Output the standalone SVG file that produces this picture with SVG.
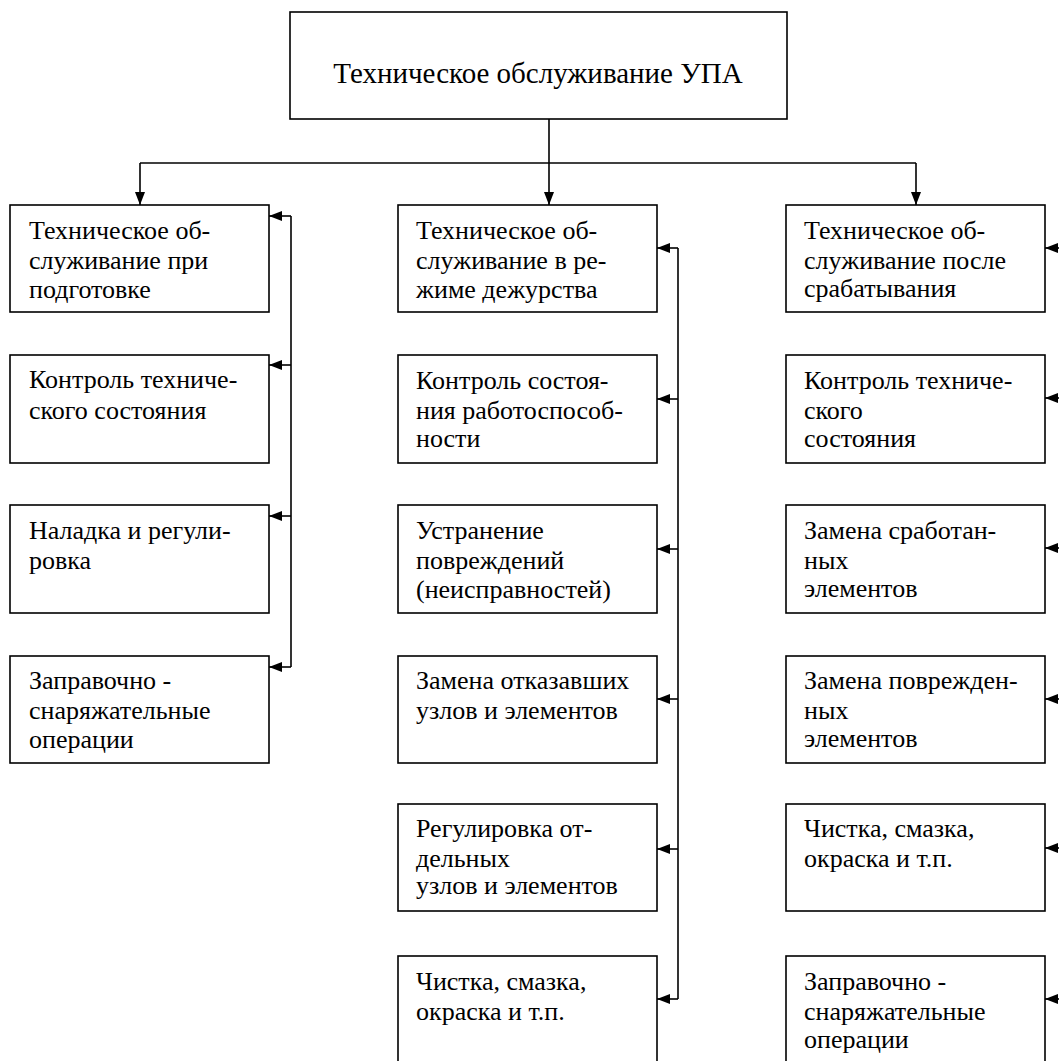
<svg xmlns="http://www.w3.org/2000/svg" width="1059" height="1061" viewBox="0 0 1059 1061" font-family="'Liberation Serif', 'Times New Roman', serif">
<style>
.box{fill:#fff;stroke:#000;stroke-width:1.6}
.t{font-size:26px;fill:#000}
.title{font-size:29px;fill:#000}
.c{fill:none;stroke:#000;stroke-width:1.6}
</style>
<defs>
<marker id="ah" markerUnits="userSpaceOnUse" markerWidth="14" markerHeight="11" refX="13" refY="5" orient="auto">
<path d="M0,0 L13,5 L0,10 z" fill="#000"/>
</marker>
</defs>
<rect width="1059" height="1061" fill="#fff"/>
<g id="connectors">
<path class="c" d="M549,119 V163"/>
<path class="c" d="M140,163 H916"/>
<path class="c" d="M140,163 V205" marker-end="url(#ah)"/>
<path class="c" d="M549,163 V205" marker-end="url(#ah)"/>
<path class="c" d="M916,163 V205" marker-end="url(#ah)"/>
<path class="c" d="M291,216 V667"/>
<path class="c" d="M291,216 H269" marker-end="url(#ah)"/>
<path class="c" d="M291,365 H269" marker-end="url(#ah)"/>
<path class="c" d="M291,516 H269" marker-end="url(#ah)"/>
<path class="c" d="M291,667 H269" marker-end="url(#ah)"/>
<path class="c" d="M678,248 V999"/>
<path class="c" d="M678,248 H657" marker-end="url(#ah)"/>
<path class="c" d="M678,399 H657" marker-end="url(#ah)"/>
<path class="c" d="M678,549 H657" marker-end="url(#ah)"/>
<path class="c" d="M678,699 H657" marker-end="url(#ah)"/>
<path class="c" d="M678,849 H657" marker-end="url(#ah)"/>
<path class="c" d="M678,999 H657" marker-end="url(#ah)"/>
<path class="c" d="M1066,248 V999"/>
<path class="c" d="M1066,248 H1045" marker-end="url(#ah)"/>
<path class="c" d="M1066,398 H1045" marker-end="url(#ah)"/>
<path class="c" d="M1066,548 H1045" marker-end="url(#ah)"/>
<path class="c" d="M1066,699 H1045" marker-end="url(#ah)"/>
<path class="c" d="M1066,848 H1045" marker-end="url(#ah)"/>
<path class="c" d="M1066,999 H1045" marker-end="url(#ah)"/>
</g>
<g id="root"><rect class="box" x="290" y="12" width="497" height="107"/><text class="title" x="538" y="83" text-anchor="middle">Техническое обслуживание УПА</text></g>

<g id="l1"><rect class="box" x="10" y="205" width="259" height="107"/><text class="t" x="29" y="239">Техническое об-<tspan x="29" dy="30">служивание при</tspan><tspan x="29" dy="29">подготовке</tspan></text></g>
<g id="l2"><rect class="box" x="10" y="355" width="259" height="108"/><text class="t" x="29" y="388">Контроль техниче-<tspan x="29" dy="31">ского состояния</tspan></text></g>
<g id="l3"><rect class="box" x="10" y="505" width="259" height="108"/><text class="t" x="29" y="539">Наладка и регули-<tspan x="29" dy="30">ровка</tspan></text></g>
<g id="l4"><rect class="box" x="10" y="656" width="259" height="107"/><text class="t" x="29" y="689">Заправочно -<tspan x="29" dy="30">снаряжательные</tspan><tspan x="29" dy="29">операции</tspan></text></g>

<g id="m1"><rect class="box" x="398" y="205" width="259" height="107"/><text class="t" x="416" y="239">Техническое об-<tspan x="416" dy="30">служивание в ре-</tspan><tspan x="416" dy="29">жиме дежурства</tspan></text></g>
<g id="m2"><rect class="box" x="398" y="355" width="259" height="108"/><text class="t" x="416" y="389">Контроль состоя-<tspan x="416" dy="30">ния работоспособ-</tspan><tspan x="416" dy="28">ности</tspan></text></g>
<g id="m3"><rect class="box" x="398" y="505" width="259" height="108"/><text class="t" x="416" y="539">Устранение<tspan x="416" dy="30">повреждений</tspan><tspan x="416" dy="29">(неисправностей)</tspan></text></g>
<g id="m4"><rect class="box" x="398" y="656" width="259" height="107"/><text class="t" x="416" y="689">Замена отказавших<tspan x="416" dy="30">узлов и элементов</tspan></text></g>
<g id="m5"><rect class="box" x="398" y="804" width="259" height="107"/><text class="t" x="416" y="837">Регулировка от-<tspan x="416" dy="30">дельных</tspan><tspan x="416" dy="27">узлов и элементов</tspan></text></g>
<g id="m6"><rect class="box" x="398" y="956" width="259" height="120"/><text class="t" x="416" y="990">Чистка, смазка,<tspan x="416" dy="30">окраска и т.п.</tspan></text></g>

<g id="r1"><rect class="box" x="786" y="205" width="259" height="107"/><text class="t" x="804" y="239">Техническое об-<tspan x="804" dy="30">служивание после</tspan><tspan x="804" dy="28">срабатывания</tspan></text></g>
<g id="r2"><rect class="box" x="786" y="355" width="259" height="108"/><text class="t" x="804" y="389">Контроль техниче-<tspan x="804" dy="30">ского</tspan><tspan x="804" dy="28">состояния</tspan></text></g>
<g id="r3"><rect class="box" x="786" y="505" width="259" height="108"/><text class="t" x="804" y="539">Замена сработан-<tspan x="804" dy="30">ных</tspan><tspan x="804" dy="28">элементов</tspan></text></g>
<g id="r4"><rect class="box" x="786" y="656" width="259" height="107"/><text class="t" x="804" y="689">Замена поврежден-<tspan x="804" dy="30">ных</tspan><tspan x="804" dy="28">элементов</tspan></text></g>
<g id="r5"><rect class="box" x="786" y="804" width="259" height="107"/><text class="t" x="804" y="837">Чистка, смазка,<tspan x="804" dy="30">окраска и т.п.</tspan></text></g>
<g id="r6"><rect class="box" x="786" y="956" width="259" height="120"/><text class="t" x="804" y="990">Заправочно -<tspan x="804" dy="30">снаряжательные</tspan><tspan x="804" dy="28">операции</tspan></text></g>
</svg>
